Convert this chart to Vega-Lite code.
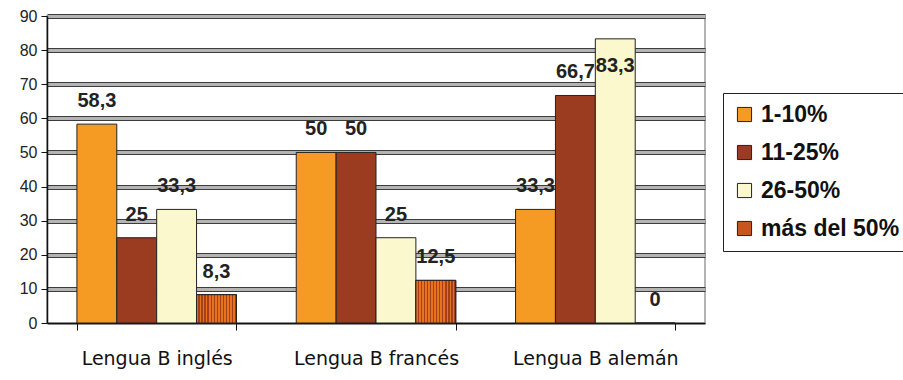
{
  "$schema": "https://vega.github.io/schema/vega-lite/v6.json",
  "width": 658,
  "height": 307,
  "autosize": {"type": "none"},
  "padding": {"left": 47, "top": 16, "right": 198, "bottom": 57},
  "background": "white",
  "config": {
    "locale": {"number": {"decimal": ",", "thousands": ".", "grouping": [3], "currency": ["", " €"]}},
    "view": {"stroke": "#9a9a9a", "strokeWidth": 1.5},
    "font": "Liberation Sans"
  },
  "data": {
    "values": [
      {"cat": "Lengua B inglés", "serie": "1-10%", "value": 58.3},
      {"cat": "Lengua B inglés", "serie": "11-25%", "value": 25},
      {"cat": "Lengua B inglés", "serie": "26-50%", "value": 33.3},
      {"cat": "Lengua B inglés", "serie": "más del 50%", "value": 8.3},
      {"cat": "Lengua B francés", "serie": "1-10%", "value": 50},
      {"cat": "Lengua B francés", "serie": "11-25%", "value": 50},
      {"cat": "Lengua B francés", "serie": "26-50%", "value": 25},
      {"cat": "Lengua B francés", "serie": "más del 50%", "value": 12.5},
      {"cat": "Lengua B alemán", "serie": "1-10%", "value": 33.3},
      {"cat": "Lengua B alemán", "serie": "11-25%", "value": 66.7},
      {"cat": "Lengua B alemán", "serie": "26-50%", "value": 83.3},
      {"cat": "Lengua B alemán", "serie": "más del 50%", "value": 0}
    ]
  },
  "encoding": {
    "x": {
      "field": "cat",
      "type": "nominal",
      "sort": ["Lengua B inglés", "Lengua B francés", "Lengua B alemán"],
      "scale": {"paddingInner": 0.2727, "paddingOuter": 0.1364},
      "axis": {
        "title": null,
        "labelAngle": 0,
        "labelFont": "DejaVu Sans",
        "labelFontSize": 19,
        "labelColor": "#111",
        "labelPadding": 19,
        "tickBand": "extent",
        "tickSize": 7,
        "tickColor": "#111",
        "domainColor": "#111",
        "domainWidth": 1.5,
        "grid": false
      }
    },
    "xOffset": {
      "field": "serie",
      "type": "nominal",
      "sort": ["1-10%", "11-25%", "26-50%", "más del 50%"],
      "scale": {"paddingInner": 0, "paddingOuter": 0}
    }
  },
  "layer": [
    {
      "mark": {"type": "bar", "stroke": "#222", "strokeWidth": 1},
      "encoding": {
        "y": {
          "field": "value",
          "type": "quantitative",
          "scale": {"domain": [0, 90]},
          "axis": {
            "title": null,
            "values": [10, 20, 30, 40, 50, 60, 70, 80, 90],
            "labels": false,
            "ticks": false,
            "domain": false,
            "grid": true,
            "gridWidth": 5,
            "gridColor": "#3c3c3c"
          }
        },
        "color": {
          "field": "serie",
          "type": "nominal",
          "scale": {
            "domain": ["1-10%", "11-25%", "26-50%", "más del 50%"],
            "range": ["#F59A23", "#9B3B1F", "#FAF8CC", "#C5561C"]
          },
          "legend": {
            "title": null,
            "orient": "none",
            "legendX": 676,
            "legendY": 77,
            "symbolType": "square",
            "symbolSize": 200,
            "symbolStrokeColor": "#222",
            "symbolStrokeWidth": 1,
            "symbolOpacity": 1,
            "labelFont": "Liberation Sans",
            "labelFontWeight": "bold",
            "labelFontSize": 23,
            "labelColor": "#111",
            "labelOffset": 5,
            "labelLimit": 300,
            "rowPadding": 14,
            "padding": 10,
            "strokeColor": "#222",
            "fillColor": "white"
          }
        }
      }
    },
    {
      "transform": [{"filter": "datum.serie === 'más del 50%' && datum.value > 0"}],
      "mark": {
        "type": "bar",
        "stroke": "#222",
        "strokeWidth": 1,
        "fill": {
          "gradient": "linear",
          "x1": 0, "y1": 0, "x2": 1, "y2": 0,
          "stops": [
            {"offset": 0, "color": "#E8731E"}, {"offset": 0.0423, "color": "#E8731E"}, {"offset": 0.0423, "color": "#A3401A"}, {"offset": 0.0769, "color": "#A3401A"},
            {"offset": 0.0769, "color": "#E8731E"}, {"offset": 0.1192, "color": "#E8731E"}, {"offset": 0.1192, "color": "#A3401A"}, {"offset": 0.1538, "color": "#A3401A"},
            {"offset": 0.1538, "color": "#E8731E"}, {"offset": 0.1962, "color": "#E8731E"}, {"offset": 0.1962, "color": "#A3401A"}, {"offset": 0.2308, "color": "#A3401A"},
            {"offset": 0.2308, "color": "#E8731E"}, {"offset": 0.2731, "color": "#E8731E"}, {"offset": 0.2731, "color": "#A3401A"}, {"offset": 0.3077, "color": "#A3401A"},
            {"offset": 0.3077, "color": "#E8731E"}, {"offset": 0.35, "color": "#E8731E"}, {"offset": 0.35, "color": "#A3401A"}, {"offset": 0.3846, "color": "#A3401A"},
            {"offset": 0.3846, "color": "#E8731E"}, {"offset": 0.4269, "color": "#E8731E"}, {"offset": 0.4269, "color": "#A3401A"}, {"offset": 0.4615, "color": "#A3401A"},
            {"offset": 0.4615, "color": "#E8731E"}, {"offset": 0.5038, "color": "#E8731E"}, {"offset": 0.5038, "color": "#A3401A"}, {"offset": 0.5385, "color": "#A3401A"},
            {"offset": 0.5385, "color": "#E8731E"}, {"offset": 0.5808, "color": "#E8731E"}, {"offset": 0.5808, "color": "#A3401A"}, {"offset": 0.6154, "color": "#A3401A"},
            {"offset": 0.6154, "color": "#E8731E"}, {"offset": 0.6577, "color": "#E8731E"}, {"offset": 0.6577, "color": "#A3401A"}, {"offset": 0.6923, "color": "#A3401A"},
            {"offset": 0.6923, "color": "#E8731E"}, {"offset": 0.7346, "color": "#E8731E"}, {"offset": 0.7346, "color": "#A3401A"}, {"offset": 0.7692, "color": "#A3401A"},
            {"offset": 0.7692, "color": "#E8731E"}, {"offset": 0.8115, "color": "#E8731E"}, {"offset": 0.8115, "color": "#A3401A"}, {"offset": 0.8462, "color": "#A3401A"},
            {"offset": 0.8462, "color": "#E8731E"}, {"offset": 0.8885, "color": "#E8731E"}, {"offset": 0.8885, "color": "#A3401A"}, {"offset": 0.9231, "color": "#A3401A"},
            {"offset": 0.9231, "color": "#E8731E"}, {"offset": 0.9654, "color": "#E8731E"}, {"offset": 0.9654, "color": "#A3401A"}, {"offset": 1, "color": "#A3401A"}
          ]
        }
      },
      "encoding": {
        "y": {"field": "value", "type": "quantitative", "axis": null}
      }
    },
    {
      "transform": [{"filter": "datum.value < 80"}],
      "mark": {"type": "text", "dy": -23, "baseline": "middle", "align": "center", "font": "Liberation Sans", "fontWeight": "bold", "fontSize": 20, "color": "#222"},
      "encoding": {
        "y": {
          "field": "value",
          "type": "quantitative",
          "axis": {
            "orient": "left",
            "title": null,
            "values": [0, 10, 20, 30, 40, 50, 60, 70, 80, 90],
            "labelFont": "Liberation Sans",
            "labelFontSize": 16,
            "labelColor": "#222",
            "labelPadding": 4,
            "tickSize": 6,
            "tickColor": "#111",
            "domainColor": "#111",
            "domainWidth": 1.5,
            "grid": true,
            "gridWidth": 3,
            "gridColor": "#b4b4b4"
          }
        },
        "text": {"field": "value", "type": "quantitative", "format": ".1~f"}
      }
    },
    {
      "transform": [{"filter": "datum.value >= 80"}],
      "mark": {"type": "text", "dy": 27, "baseline": "middle", "align": "center", "font": "Liberation Sans", "fontWeight": "bold", "fontSize": 20, "color": "#222"},
      "encoding": {
        "y": {"field": "value", "type": "quantitative", "axis": null},
        "text": {"field": "value", "type": "quantitative", "format": ".1~f"}
      }
    }
  ],
  "resolve": {"axis": {"y": "independent"}}
}
